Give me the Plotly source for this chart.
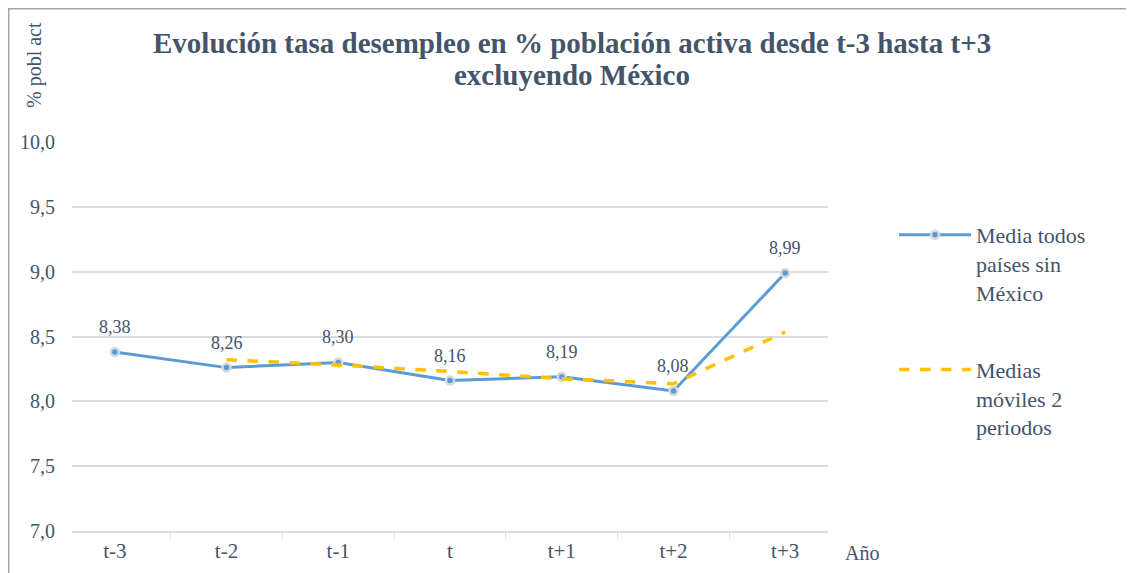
import plotly.graph_objects as go

categories = ["t-3", "t-2", "t-1", "t", "t+1", "t+2", "t+3"]
media_values = [8.38, 8.26, 8.30, 8.16, 8.19, 8.08, 8.99]
media_labels = ["8,38", "8,26", "8,30", "8,16", "8,19", "8,08", "8,99"]
mm_categories = ["t-2", "t-1", "t", "t+1", "t+2", "t+3"]
mm_values = [8.32, 8.28, 8.23, 8.175, 8.135, 8.535]
y_ticks = [7.0, 7.5, 8.0, 8.5, 9.0, 9.5, 10.0]
title_lines = ["Evolución tasa desempleo en % población activa desde t-3 hasta t+3",
               "excluyendo México"]

TXT = "#44546A"
FONT = "Liberation Serif, Times New Roman, Times, serif"

L, R, T, B = 64, 820, 134, 523  # plot area in figure pixels
PW, PH = R - L, B - T

def px(x):
    return (x - L) / PW

def py(y):
    return (B - y) / PH

fig = go.Figure()
fig.add_trace(go.Scatter(
    x=categories, y=media_values, mode="lines+markers",
    name="Media todos<br>países sin<br>México",
    legendgroup="a",
    line=dict(color="#5B9BD5", width=3),
    marker=dict(size=8, color="#5B9BD5", line=dict(color="#D9D9D9", width=2.5)),
))
fig.add_trace(go.Scatter(
    x=mm_categories, y=mm_values, mode="lines",
    name="Medias<br>móviles 2<br>periodos",
    legendgroup="b",
    line=dict(color="#FFC000", width=3.5, dash="dash"),
))

annotations = []
for c, v, lab in zip(categories, media_values, media_labels):
    annotations.append(dict(
        x=c, y=v, xref="x", yref="y", text=lab, showarrow=False,
        yshift=25, xanchor="center", yanchor="middle",
        font=dict(family=FONT, size=18, color=TXT),
    ))
for i, line in enumerate(title_lines):
    annotations.append(dict(
        text=f"<b>{line}</b>", xref="paper", yref="paper",
        x=px(564), y=py(35 + 32 * i), xanchor="center", yanchor="middle",
        showarrow=False, font=dict(family=FONT, size=29, color=TXT),
    ))
annotations += [
    dict(text="% pobl act", textangle=-90, xref="paper", yref="paper",
         x=px(27), y=py(57), xanchor="center", yanchor="middle",
         showarrow=False, font=dict(family=FONT, size=20, color=TXT)),
    dict(text="Año", xref="paper", yref="paper",
         x=px(854), y=py(545), xanchor="center", yanchor="middle",
         showarrow=False, font=dict(family=FONT, size=20, color=TXT)),
]

fig.update_layout(
    width=1134, height=573,
    margin=dict(l=L, r=1134 - R, t=T, b=573 - B),
    paper_bgcolor="white", plot_bgcolor="white",
    separators=",.",
    font=dict(family=FONT, color=TXT, size=20),
    showlegend=True,
    legend=dict(
        x=px(886), xanchor="left", y=py(206), yanchor="top",
        font=dict(family=FONT, size=22, color=TXT),
        valign="top", tracegroupgap=46, bgcolor="rgba(0,0,0,0)",
        itemwidth=72,
    ),
    xaxis=dict(
        categoryorder="array", categoryarray=categories,
        showgrid=False, showline=True, linecolor="#D9DDE3", linewidth=1.5,
        ticks="outside", tickson="boundaries", ticklen=6, tickcolor="#D9DDE3",
        tickfont=dict(family=FONT, size=21, color=TXT),
        zeroline=False,
    ),
    yaxis=dict(
        range=[7, 10], tickvals=y_ticks, tickformat=".1f",
        showgrid=True, gridcolor="#D9DDE3", gridwidth=1.5,
        showline=False, zeroline=False, ticks="",
        ticklabelstandoff=16,
        tickfont=dict(family=FONT, size=20, color=TXT),
    ),
    annotations=annotations,
    shapes=[
        dict(type="rect", xref="paper", yref="paper",
             x0=px(0.75), x1=px(1140), y0=py(580), y1=py(0.75),
             line=dict(color="#A6A6A6", width=1.5), fillcolor="rgba(0,0,0,0)",
             layer="below"),
    ],
)

fig.write_html("out.html")
